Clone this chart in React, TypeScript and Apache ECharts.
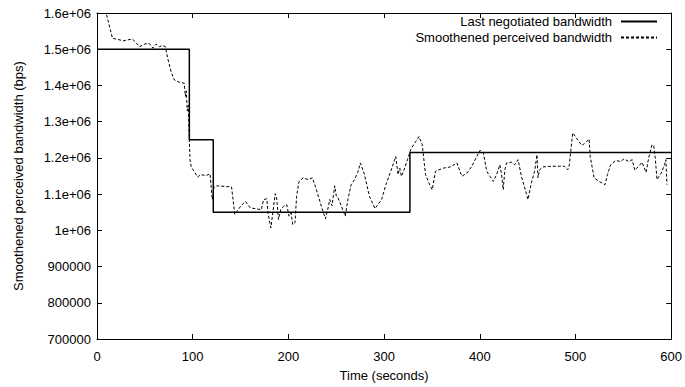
import React, { useEffect, useRef } from "react";
import * as echarts from "echarts";

const negTimes = [0, 96.5, 121.5, 327, 600];
const negValues = [1500000, 1250000, 1050000, 1215000, 1215000];

const percTimes = [
  10, 12.7, 16.2, 22, 27.3, 32.5, 37, 40.4, 44.6, 49.7, 54.2, 58.4, 61.8, 65.3, 68.7, 71.5, 73.9, 77.4, 80.8, 86,
  91.2, 92.3, 93.3, 94.3, 95.3, 96.3, 97.2, 98.5, 101.5, 105, 108.5, 113.7, 118.1, 120.5, 122.3, 125.7, 134.4, 140.6,
  144, 150, 155.1, 160.3, 167.2, 171.7, 174.1, 177.5, 178.6, 181.7, 183.7, 186.2, 187.9, 189.6, 192, 194.8, 198.3,
  200.7, 202.8, 204.5, 206.9, 208.6, 211.1, 215.5, 220.7, 225.2, 229.3, 234.5, 238.7, 241.5, 243.2, 245.6, 248.4,
  250.1, 251.8, 255.2, 259.4, 262.2, 265.6, 269.1, 272.5, 275.3, 279.5, 284.7, 290.5, 297.4, 301.9, 307, 312.2,
  314.6, 316.4, 318.1, 320.9, 324.4, 327.8, 333, 336.5, 339.9, 343.3, 346.8, 350.3, 353.7, 357.2, 362.4, 369.2,
  376.2, 381.3, 386.5, 391.7, 396.9, 400.3, 403.8, 407.3, 410.7, 414.2, 417.6, 421, 422.8, 424.5, 426.2, 428,
  433.2, 436.6, 440.1, 443.5, 447, 450.4, 453.9, 457.3, 459.8, 460.8, 462.5, 466, 474.6, 483.2, 488.4, 491.9,
  493.6, 497.1, 502.3, 506.7, 510.9, 514.3, 515.4, 519.5, 524.7, 530.9, 533.4, 536.8, 542, 547.2, 550.6, 555.8,
  559.3, 562, 566.1, 569.6, 573.8, 576.5, 580, 581.7, 583.4, 585.2, 589.6, 593.1, 594.5, 595.6,
];
const percValues = [
  1595000, 1567000, 1530000, 1527000, 1523000, 1526000, 1528000, 1519000, 1507000, 1514000, 1517000, 1503000,
  1514000, 1507000, 1510000, 1507000, 1475000, 1438000, 1415000, 1409000,
  1406000, 1370000, 1385000, 1330000, 1345000, 1270000, 1195000, 1175000, 1163000, 1147000, 1154000, 1151000,
  1156000, 1085000, 1120000, 1123000, 1121000, 1120000,
  1044000, 1066000, 1080000, 1062000, 1059000, 1057000, 1085000, 1087000, 1048000, 1007000, 1048000, 1101000,
  1086000, 1030000, 1057000, 1066000, 1071000,
  1039000, 1048000, 1016000, 1021000, 1094000, 1135000, 1145000, 1140000, 1145000, 1112000, 1066000, 1032000,
  1062000, 1085000, 1068000, 1123000,
  1094000, 1090000, 1068000, 1039000, 1085000, 1126000, 1140000, 1160000, 1186000, 1154000, 1094000, 1060000,
  1085000, 1126000, 1163000, 1204000,
  1154000, 1172000, 1149000, 1167000, 1195000, 1223000, 1245000, 1259000, 1236000, 1154000, 1131000, 1112000,
  1163000, 1167000, 1172000, 1175000,
  1186000, 1149000, 1158000, 1177000, 1204000, 1221000, 1213000, 1163000, 1149000, 1135000, 1154000, 1181000,
  1154000, 1112000, 1167000, 1186000,
  1188000, 1181000, 1195000, 1149000, 1117000, 1085000, 1131000, 1163000, 1209000, 1145000, 1167000, 1175000,
  1177000, 1177000, 1177000, 1167000,
  1181000, 1269000, 1250000, 1234000, 1243000, 1252000, 1204000, 1145000, 1135000, 1126000, 1154000, 1181000,
  1193000, 1190000, 1197000, 1190000,
  1195000, 1166000, 1177000, 1188000, 1160000, 1200000, 1236000, 1234000, 1200000, 1140000, 1158000, 1181000,
  1195000, 1126000,
];

const xMin = 0;
const xMax = 600;
const xStep = 100;
const yMin = 700000;
const yMax = 1600000;
const yStep = 100000;

const FONT = "'Liberation Sans', Arial, sans-serif";
const FS = 13;

function fmtY(v: number): string {
  if (v >= 1000000) {
    const m = v / 1000000;
    const s = Number.isInteger(m) ? String(m) : m.toFixed(1);
    return s + "e+06";
  }
  return String(v);
}

export default function App() {
  const ref = useRef<HTMLDivElement>(null);
  useEffect(() => {
    if (!ref.current) return;
    const chart = echarts.init(ref.current, null, { renderer: "svg" });
    const tickCommon = { show: true, inside: true, length: 5, lineStyle: { color: "#000", width: 1 } };
    const lineCommon = { show: true, onZero: false, lineStyle: { color: "#000", width: 1 } };
    const txt = { fontFamily: FONT, fontSize: FS, color: "#000" };
    chart.setOption({
      animation: false,
      backgroundColor: "#fff",
      textStyle: { fontFamily: FONT },
      grid: { left: 97, right: 9, top: 13, bottom: 47, containLabel: false },
      legend: {
        orient: "vertical",
        align: "right",
        right: 27,
        top: 15,
        padding: 0,
        itemWidth: 36,
        itemHeight: 14,
        itemGap: 3,
        itemStyle: { opacity: 0, borderWidth: 0 },
        textStyle: { ...txt, padding: [0, 4, 0, 0] },
        data: ["Last negotiated bandwidth", "Smoothened perceived bandwidth"],
      },
      xAxis: [
        {
          type: "value",
          min: xMin,
          max: xMax,
          interval: xStep,
          name: "Time (seconds)",
          nameLocation: "middle",
          nameGap: 30,
          nameTextStyle: txt,
          axisLine: lineCommon,
          axisTick: tickCommon,
          axisLabel: { margin: 11, ...txt },
          splitLine: { show: false },
        },
        {
          type: "value",
          position: "top",
          min: xMin,
          max: xMax,
          interval: xStep,
          axisLine: lineCommon,
          axisTick: tickCommon,
          axisLabel: { show: false },
          splitLine: { show: false },
        },
      ],
      yAxis: [
        {
          type: "value",
          min: yMin,
          max: yMax,
          interval: yStep,
          name: "Smoothened perceived bandwidth (bps)",
          nameLocation: "middle",
          nameGap: 72,
          nameTextStyle: txt,
          axisLine: lineCommon,
          axisTick: tickCommon,
          axisLabel: { margin: 6, ...txt, formatter: fmtY },
          splitLine: { show: false },
        },
        {
          type: "value",
          position: "right",
          min: yMin,
          max: yMax,
          interval: yStep,
          axisLine: lineCommon,
          axisTick: tickCommon,
          axisLabel: { show: false },
          splitLine: { show: false },
        },
      ],
      series: [
        {
          name: "Last negotiated bandwidth",
          type: "line",
          step: "end",
          symbol: "none",
          data: negTimes.map((t, i) => [t, negValues[i]]),
          lineStyle: { color: "#000", width: 1.5 },
          itemStyle: { color: "#000" },
          z: 3,
        },
        {
          name: "Smoothened perceived bandwidth",
          type: "line",
          symbol: "none",
          data: percTimes.map((t, i) => [t, percValues[i]]),
          lineStyle: { color: "#000", width: 1, type: [3, 2] },
          itemStyle: { color: "#000" },
          z: 2,
        },
      ],
    });
    return () => chart.dispose();
  }, []);
  return <div ref={ref} style={{ width: 685, height: 387, position: "absolute", left: 0, top: 0 }} />;
}
